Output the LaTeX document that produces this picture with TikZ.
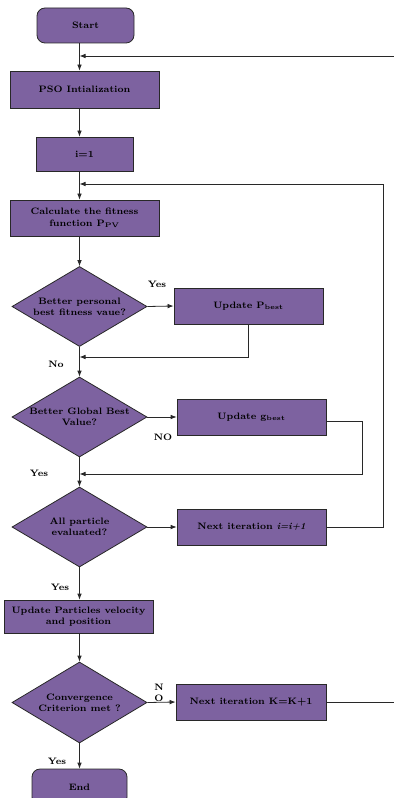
\documentclass[tikz,border=0pt]{standalone}
\usepackage{tikz}
\usetikzlibrary{positioning,shapes.geometric,arrows.meta}
\definecolor{psofill}{RGB}{125,98,160}
\definecolor{psoline}{RGB}{40,40,40}

\begin{document}
\begin{tikzpicture}[x=0.75pt,y=-0.75pt,
    font=\fontsize{7}{8.5}\selectfont\bfseries,
    box/.style={rectangle,draw=psoline,fill=psofill,line width=0.6pt,align=center,inner sep=1pt},
    term/.style={box,rounded corners=6pt},
    decide/.style={diamond,draw=psoline,fill=psofill,line width=0.6pt,inner sep=0pt,
        minimum width=101.25pt,minimum height=60pt},
    dtext/.style={align=center,inner sep=0pt},
    arr/.style={-{Latex[length=4.5pt,width=3.5pt]},psoline,line width=0.6pt},
    lbl/.style={inner sep=1pt}]
    \useasboundingbox (0,0) rectangle (393,798);
    \node[term,minimum width=72.75pt,minimum height=26.25pt] (start) at (85.5,25.5) {Start};
    \node[box,minimum width=111.75pt,minimum height=27.75pt] (init) at (84.5,89.5) {PSO Intialization};
    \node[box,minimum width=72.75pt,minimum height=25.5pt] (ione) at (84.5,154) {i=1};
    \node[box,minimum width=111.75pt,minimum height=27pt] (fit) at (84.5,218) {Calculate the fitness\\function P\textsubscript{PV}};
    \node[decide] (dpers) at (79.5,306.5) {};
    \node[dtext] (tpers) at (dpers) {Better personal\\best fitness vaue?};
    \node[box,minimum width=111.75pt,minimum height=27pt] (pbest) at (248.5,306) {Update P\textsubscript{best}};
    \node[decide] (dglob) at (79.5,417) {};
    \node[dtext] (tglob) at (dglob) {Better Global Best\\Value?};
    \node[box,minimum width=111.75pt,minimum height=27pt] (gbest) at (251.5,417) {Update g\textsubscript{best}};
    \node[decide] (dall) at (79.5,527) {};
    \node[dtext] (tall) at (dall) {All particle\\evaluated?};
    \node[box,minimum width=111.75pt,minimum height=27pt] (nexti) at (251.5,527) {Next iteration \textit{i=i+1}};
    \node[box,minimum width=111.75pt,minimum height=24.75pt] (upd) at (78.5,616.5) {Update Particles velocity\\and position};
    \node[decide,minimum height=60.75pt] (dconv) at (79.5,702.5) {};
    \node[dtext] (tconv) at (dconv) {Convergence\\Criterion met ?};
    \node[box,minimum width=112.5pt,minimum height=27pt] (nextk) at (251,702) {Next iteration K=K+1};
    \node[term,minimum width=71.25pt,minimum height=27pt] (stop) at (79.5,787) {End};
    % junction points of the loops
    \coordinate (kout) at (410,702);
    \coordinate (kin) at (410,56);
    \coordinate (kjoin) at (79.5,56);
    \coordinate (ijoin) at (79.5,184);
    \coordinate (iturn) at (383,184);
    \coordinate (pjoin) at (79.5,357);
    \coordinate (gjoin) at (79.5,474);
    \coordinate (gturn) at (362,474);
    % main line
    \draw[arr] (start.south -| dpers.north) -- (init.north -| dpers.north);
    \draw[arr] (init.south -| dpers.north) -- (ione.north -| dpers.north);
    \draw[arr] (ione.south -| dpers.north) -- (fit.north -| dpers.north);
    \draw[arr] (fit.south -| dpers.north) -- (dpers.north);
    \draw[arr] (dpers.south) -- (dglob.north);
    \draw[arr] (dglob.south) -- (dall.north);
    \draw[arr] (dall.south) -- (upd.north -| dall.south);
    \draw[arr] (upd.south -| dconv.north) -- (dconv.north);
    \draw[arr] (dconv.south) -- (stop.north -| dconv.south);
    % branches
    \draw[arr] (dpers.east) -- (pbest.west);
    \draw[arr] (dglob.east) -- (gbest.west);
    \draw[arr] (dall.east) -- (nexti.west);
    \draw[arr] (dconv.east) -- (nextk.west);
    % returns
    \draw[arr] (pbest.south) |- (pjoin);
    \draw[arr] ([yshift=-3pt]gbest.east) -| (gturn) -- (gjoin);
    \draw[arr] (nexti.east) -| (iturn) -- (ijoin);
    \draw[arr] (nextk.east) -- (kout) -- (kin) -- (kjoin);
    % labels
    \node[lbl] (ypers) at (157,284) {Yes};
    \node[lbl] (npers) at (56,364) {No};
    \node[lbl] (nglob) at (163,437) {NO};
    \node[lbl] (yglob) at (39,473) {Yes};
    \node[lbl] (yall) at (60,587) {Yes};
    \node[lbl,align=center,font=\fontsize{7}{8}\selectfont\bfseries] (nconv) at (159,693) {N\\O};
    \node[lbl] (yconv) at (57,761) {Yes};
\end{tikzpicture}
\end{document}
